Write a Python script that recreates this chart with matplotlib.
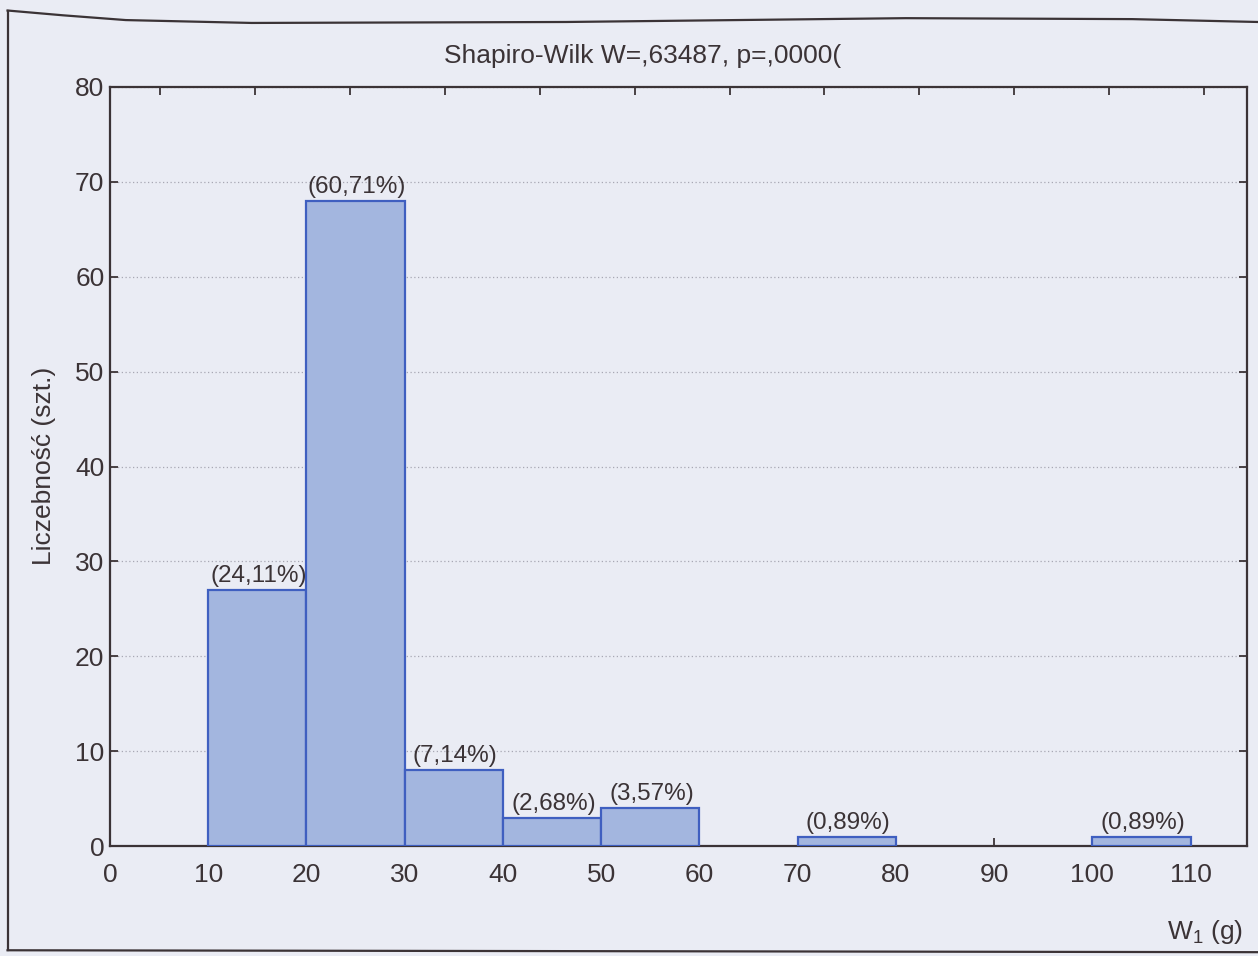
import numpy as np
import matplotlib
matplotlib.use("Agg")
import matplotlib.pyplot as plt
from matplotlib.lines import Line2D

plt.rcParams["font.family"] = ["Liberation Sans", "DejaVu Sans"]
plt.rcParams["mathtext.default"] = "regular"

# histogram data: W1 classes (g) and counts
bin_edges = [10, 20, 30, 40, 50, 60, 70, 80, 90, 100, 110]
counts = [27, 68, 8, 3, 4, 0, 1, 0, 0, 1]
total = 112
x_ticks = [0, 10, 20, 30, 40, 50, 60, 70, 80, 90, 100, 110]
y_ticks = [0, 10, 20, 30, 40, 50, 60, 70, 80]

ink = "#3b3336"
paper = "#eaecf4"
bar_face = "#a3b6df"
bar_edge = "#3f5fc0"
fs = 19

fig = plt.figure(figsize=(12.58, 9.56), dpi=100, facecolor=paper)
ax = fig.add_axes([0.0874, 0.115, 0.9036, 0.794], facecolor=paper)

lefts = np.array(bin_edges[:-1])
widths = np.diff(bin_edges)
for x0, w, c in zip(lefts, widths, counts):
    if c == 0:
        continue
    ax.bar(x0, c, width=w, align="edge", color=bar_face,
           edgecolor=bar_edge, linewidth=1.6, zorder=3)
    pct = "(" + f"{100 * c / total:.2f}".replace(".", ",") + "%)"
    ax.annotate(pct, (x0 + w / 2, c), xytext=(1, 2),
                textcoords="offset points", ha="center", va="bottom",
                fontsize=17.5, color=ink, zorder=4)

ax.set_xlim(0, 115.7)
ax.set_ylim(0, 80)
ax.set_xticks(x_ticks)
ax.set_yticks(y_ticks)
ax.tick_params(direction="in", length=6, width=1.3, color=ink,
               labelsize=fs, labelcolor=ink)
ax.tick_params(axis="x", pad=12)
ax.tick_params(axis="y", right=True, pad=4)
for s in ax.spines.values():
    s.set_color(ink)
    s.set_linewidth(1.6)

# dotted horizontal grid
ax.yaxis.grid(True, linestyle=(0, (1, 2)), color="#a8a8b4", linewidth=0.9)
ax.set_axisbelow(True)

# secondary ticks along the top edge
top = ax.twiny()
top.set_xlim(ax.get_xlim())
top.set_xticks(np.arange(5.1, 115, 9.66))
top.tick_params(direction="in", length=6, width=1.3, color=ink,
                labeltop=False)
for s in top.spines.values():
    s.set_visible(False)

fig.text(0.511, 0.941, "Shapiro-Wilk W=,63487, p=,0000(", ha="center",
         va="center", fontsize=fs, color=ink)
fig.text(0.035, 0.513, "Liczebność (szt.)", rotation=90, ha="center",
         va="center", fontsize=fs, color=ink)
fig.text(0.958, 0.025, "W$_1$ (g)", ha="center", va="center",
         fontsize=fs, color=ink)

# page frame around the chart (top edge slightly bowed)
frame = dict(color=ink, linewidth=1.6, transform=fig.transFigure)
fig.add_artist(Line2D([0.006, 0.006], [0.006, 0.989], **frame))
fig.add_artist(Line2D([0.006, 0.05, 0.1, 0.2, 0.45, 0.72, 0.9, 1.0],
                      [0.989, 0.984, 0.979, 0.976, 0.977, 0.981, 0.980,
                       0.977], **frame))
fig.add_artist(Line2D([0.006, 1.0], [0.006, 0.004], **frame))

fig.savefig("out.png", dpi=100, facecolor=paper)
